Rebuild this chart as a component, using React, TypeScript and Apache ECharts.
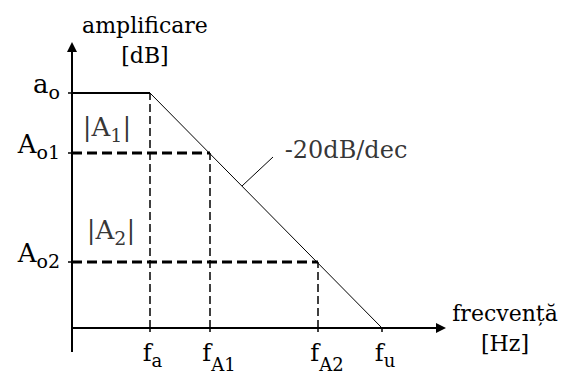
import React, { useEffect, useRef } from 'react';
import * as echarts from 'echarts';

const FONT = 'DejaVu Serif';

// Frequency markers on the (logarithmic) frequency axis, arbitrary units from the origin
const freqSubs = ['a', 'A1', 'A2', 'u'];
const freqPos = [78, 138, 246, 310];

// Gain levels on the dB axis, arbitrary units above 0
const levelMain = ['a', 'A', 'A'];
const levelSubs = ['o', 'o1', 'o2'];
const levelVal = [235, 175, 66];

// Annotation texts
const slopeText = '-20dB/dec';
const gainTexts = [
  { main: 'A', sub: '1' },
  { main: 'A', sub: '2' },
];
const yName = 'amplificare\n[dB]';
const xName = 'frecvență\n[Hz]';

// axis extents (data units)
const xRange = [0, 369];
const yRange = [0, 281];
// axis stubs drawn past the origin
const xStub = [[-25, 0], [0, 0]];
const yStub = [[0, -24], [0, 0]];

// layout of annotations (data coordinates)
const gainTextPos = [
  [35, 199],
  [39, 96],
];
const slopeTextPos = [274, 178];
const leaderLine = [
  [170, 142],
  [201, 171],
];

function measure(text: string, size: number): number {
  const c = document.createElement('canvas').getContext('2d');
  if (!c) return text.length * size * 0.6;
  c.font = `${size}px "${FONT}"`;
  return c.measureText(text).width;
}

export default function App() {
  const ref = useRef<HTMLDivElement>(null);
  useEffect(() => {
    if (!ref.current) return;
    const chart = echarts.init(ref.current, undefined, { renderer: 'svg' });

    const F = 24;
    const MAIN = 26;
    const SUB = 19;
    const XSUB = 18;
    const black = '#000';

    const xRich: any = {
      s: { fontFamily: FONT, fontSize: XSUB, color: black, verticalAlign: 'top', padding: [10, 0, 0, 0] },
      S: { fontFamily: FONT, fontSize: XSUB, color: black, verticalAlign: 'top', padding: [14, 0, 0, 0] },
    };
    freqSubs.forEach((s, i) => {
      const w = measure(s, XSUB);
      xRich['f' + i] = {
        fontFamily: FONT,
        fontSize: F,
        color: black,
        verticalAlign: 'top',
        padding: [0, 0, 0, Math.max(0, Math.round(w - 6))],
      };
    });

    const yRich: any = {
      m: { fontFamily: FONT, fontSize: MAIN, color: black, verticalAlign: 'top', lineHeight: 44 },
      s: { fontFamily: FONT, fontSize: SUB, color: black, verticalAlign: 'top', padding: [11, 0, 0, 0] },
    };

    const annRich: any = {
      m: { fontFamily: FONT, fontSize: MAIN, color: black, verticalAlign: 'top' },
      s: { fontFamily: FONT, fontSize: SUB, color: black, verticalAlign: 'top', padding: [11, 0, 0, 0] },
    };

    const lineSeries = (data: number[][], width: number, type: any) => ({
      type: 'line',
      data,
      symbol: 'none',
      showSymbol: false,
      silent: true,
      clip: false,
      lineStyle: { color: black, width, type },
      z: 3,
    });

    const series: any[] = [
      // axis stubs past the origin
      lineSeries(xStub, 2, 'solid'),
      lineSeries(yStub, 2, 'solid'),
      // flat gain up to f_a
      lineSeries([[0, levelVal[0]], [freqPos[0], levelVal[0]]], 2, 'solid'),
      // -20 dB/dec roll-off down to f_u
      lineSeries([[freqPos[0], levelVal[0]], [freqPos[3], 0]], 1, 'solid'),
      // vertical dashed guides
      lineSeries([[freqPos[0], 0], [freqPos[0], levelVal[0]]], 1.5, [8, 4]),
      lineSeries([[freqPos[1], 0], [freqPos[1], levelVal[1]]], 1.5, [8, 4]),
      lineSeries([[freqPos[2], 0], [freqPos[2], levelVal[2]]], 1.5, [8, 4]),
      // horizontal dashed levels
      lineSeries([[0, levelVal[1]], [freqPos[1], levelVal[1]]], 3, [10, 5]),
      lineSeries([[0, levelVal[2]], [freqPos[2], levelVal[2]]], 3, [10, 5]),
      // leader for slope label
      lineSeries(leaderLine, 1, 'solid'),
      {
        type: 'scatter',
        symbolSize: 0,
        silent: true,
        clip: false,
        data: [
          ...gainTexts.map((g, i) => ({
            value: gainTextPos[i],
            label: { formatter: `{m||${g.main}}{s|${g.sub}}{m||}` },
          })),
          { value: slopeTextPos, label: { formatter: slopeText } },
        ],
        label: {
          show: true,
          position: 'inside',
          color: black,
          fontFamily: FONT,
          fontSize: 24,
          rich: annRich,
        },
        z: 4,
      },
    ];

    chart.setOption({
      animation: false,
      backgroundColor: '#fff',
      textStyle: { fontFamily: FONT, color: black },
      grid: { left: 72, top: 47, width: 369, height: 281, containLabel: false, outerBoundsMode: 'none' },
      xAxis: {
        type: 'value',
        min: xRange[0],
        max: xRange[1],
        axisLine: {
          show: true,
          onZero: false,
          symbol: ['none', 'triangle'],
          symbolSize: [10, 10],
          lineStyle: { color: black, width: 2 },
        },
        axisTick: { show: true, customValues: freqPos, length: 4, lineStyle: { color: black, width: 1.5 } },
        axisLabel: {
          show: true,
          customValues: freqPos,
          margin: 13,
          formatter: (v: number) => {
            const i = freqPos.indexOf(v);
            const s = freqSubs[i];
            const up = s[0] === s[0].toUpperCase();
            return `{f${i}|f}{${up ? 'S' : 's'}|${s}}`;
          },
          rich: xRich,
        },
        splitLine: { show: false },
        name: xName,
        nameLocation: 'end',
        nameGap: 64,
        nameTextStyle: {
          fontFamily: FONT,
          fontSize: 22,
          color: black,
          align: 'center',
          verticalAlign: 'middle',
          lineHeight: 30,
        },
      },
      yAxis: {
        type: 'value',
        min: yRange[0],
        max: yRange[1],
        axisLine: {
          show: true,
          onZero: false,
          symbol: ['none', 'triangle'],
          symbolSize: [10, 10],
          lineStyle: { color: black, width: 2 },
        },
        axisTick: { show: true, customValues: levelVal, length: 4, lineStyle: { color: black, width: 1.5 } },
        axisLabel: {
          show: true,
          customValues: levelVal,
          margin: 12,
          formatter: (v: number) => {
            const i = levelVal.indexOf(v);
            return `{m|${levelMain[i]}}{s|${levelSubs[i]}}`;
          },
          rich: yRich,
        },
        splitLine: { show: false },
        name: yName,
        nameLocation: 'end',
        nameGap: -23,
        nameTextStyle: {
          fontFamily: FONT,
          fontSize: 22,
          color: black,
          align: 'center',
          verticalAlign: 'bottom',
          lineHeight: 30,
          padding: [0, 0, 0, 146],
        },
      },
      series,
    });
    return () => chart.dispose();
  }, []);
  return (
    <div
      ref={ref}
      style={{ position: 'fixed', left: 0, top: 0, width: 566, height: 374, background: '#fff' }}
    />
  );
}
